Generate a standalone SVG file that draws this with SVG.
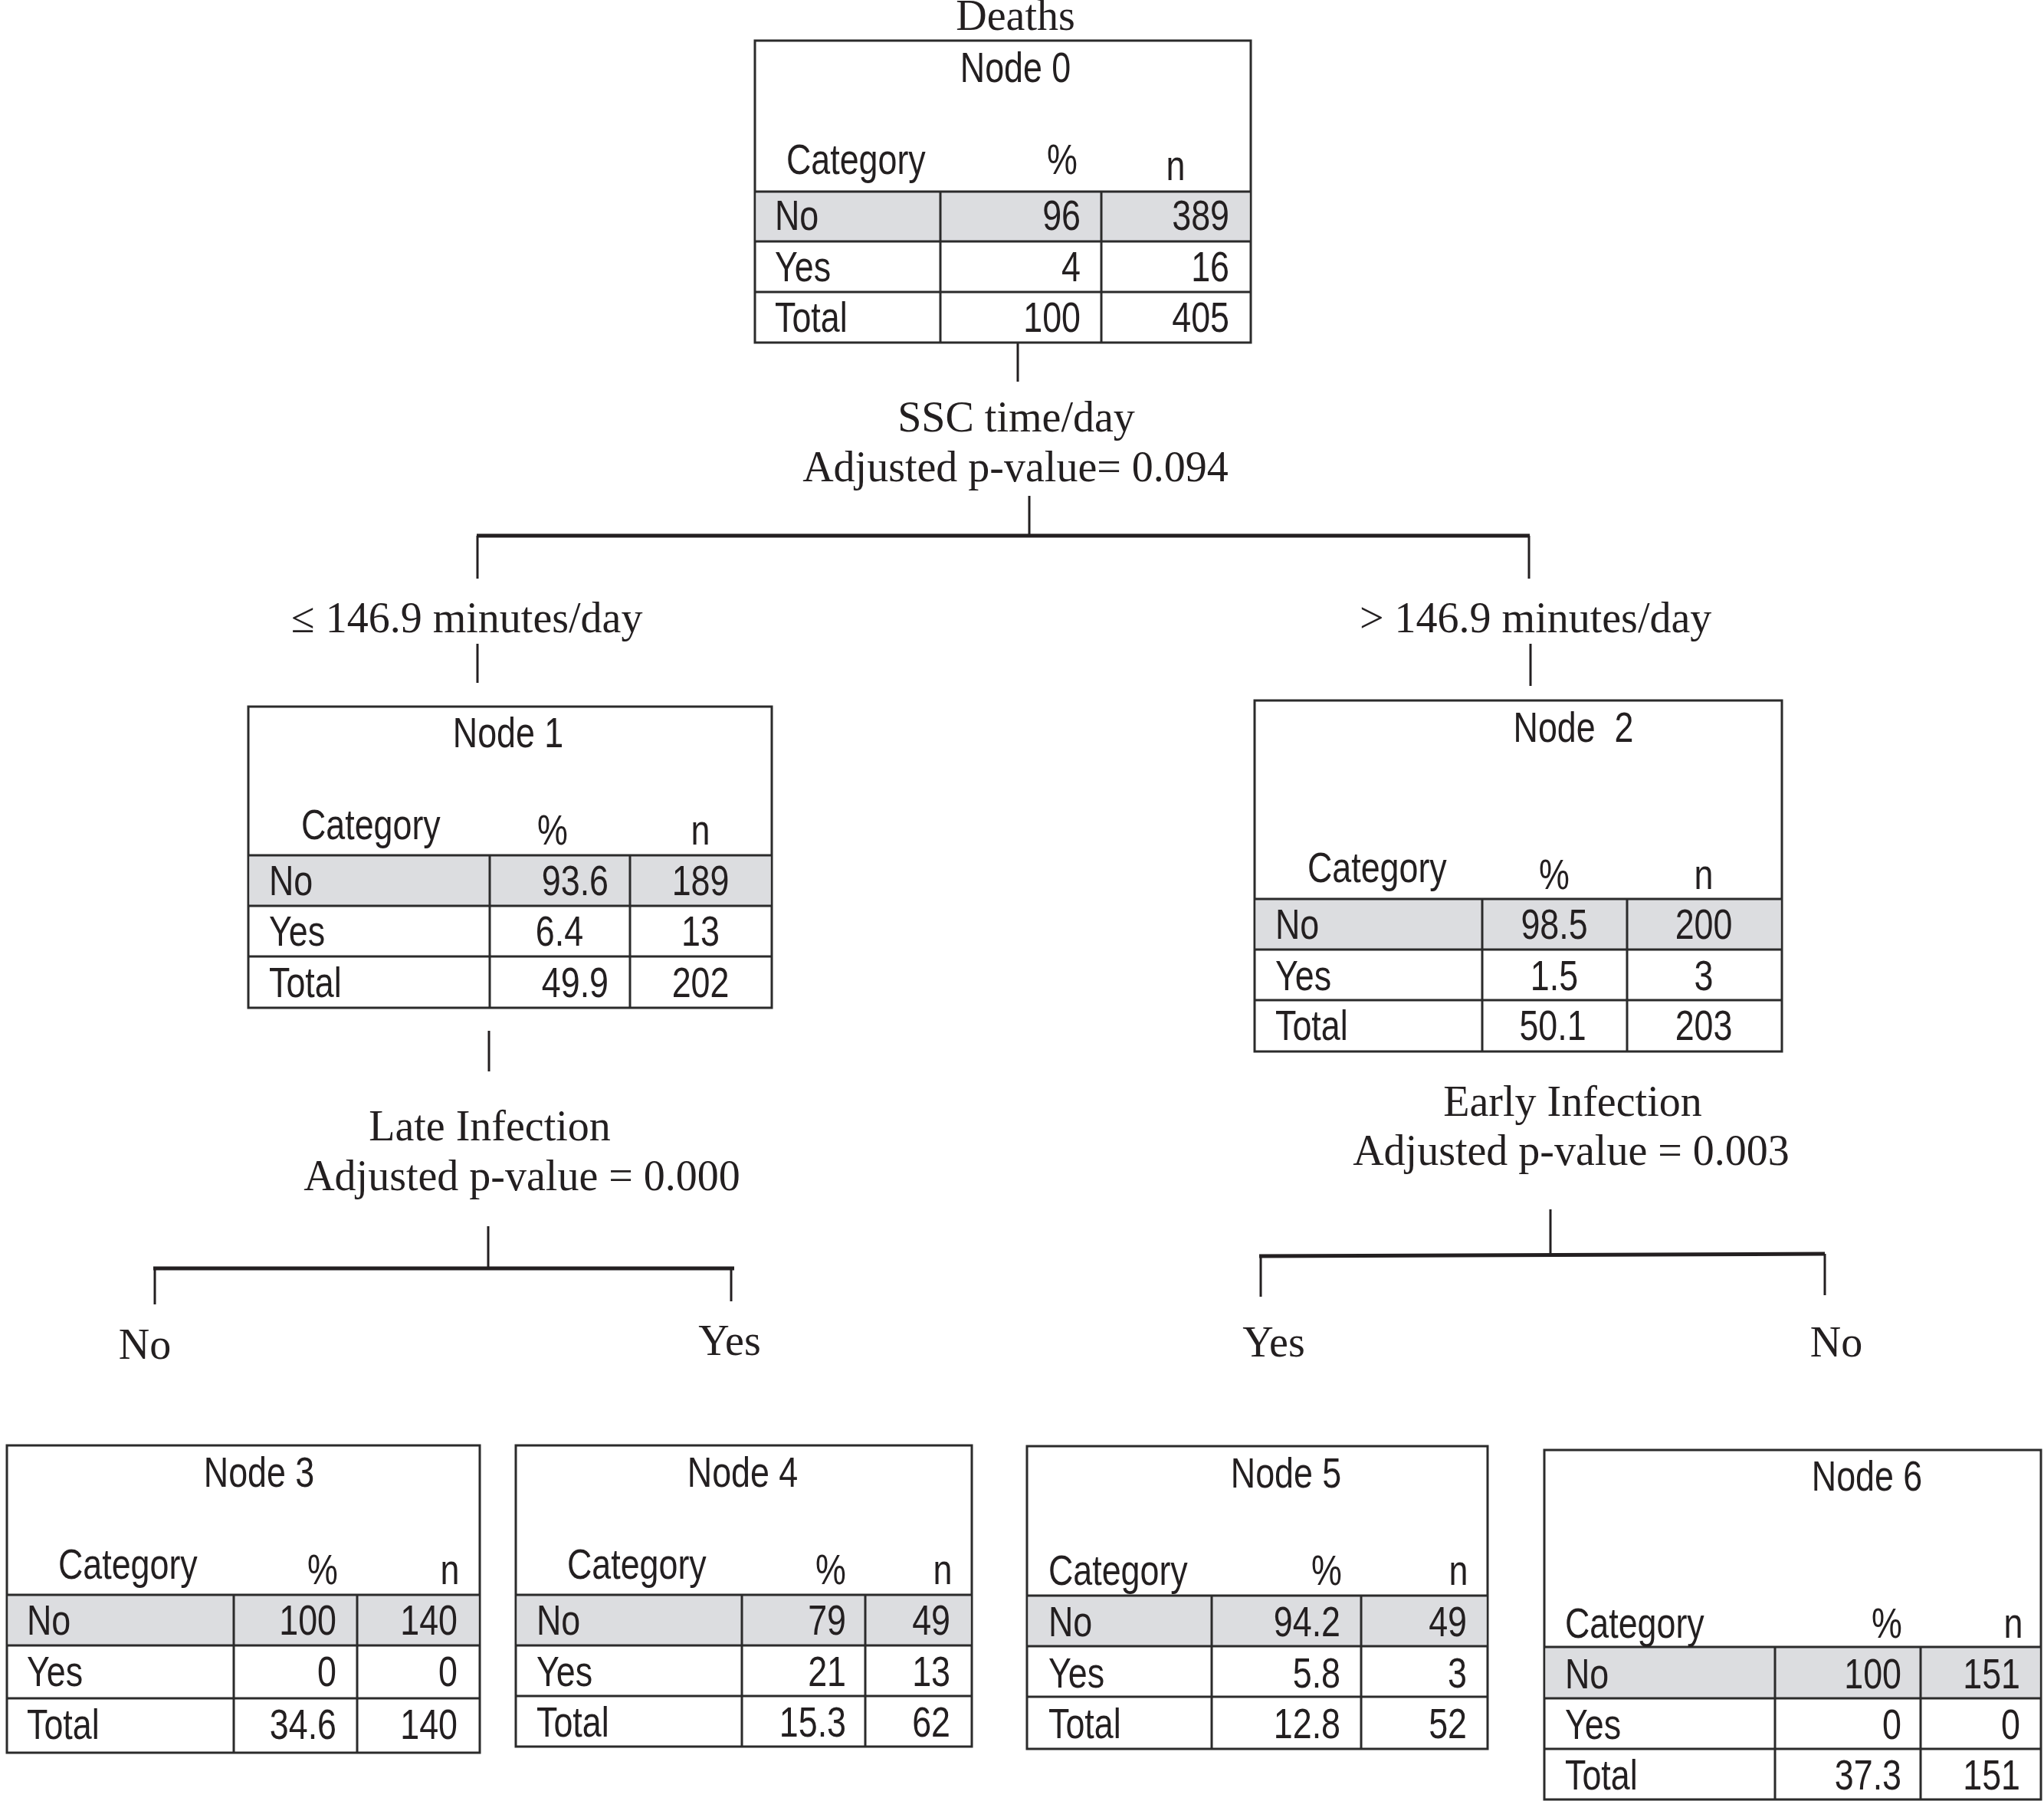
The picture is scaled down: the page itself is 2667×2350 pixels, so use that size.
<svg xmlns="http://www.w3.org/2000/svg" width="2667" height="2350" viewBox="0 0 2667 2350">
<style>
.s{font-family:"Liberation Sans",Arial,sans-serif;font-size:56px;fill:#231f20}
.t{font-family:"Liberation Serif","Times New Roman",serif;font-size:56px;fill:#231f20}
.m{text-anchor:middle}
.e{text-anchor:end}
.box{fill:#fff;stroke:#2b2b2b;stroke-width:3}
.hl{fill:#dcdde0}
.g{stroke:#2b2b2b;stroke-width:3;fill:none}
.c{stroke:#231f20;stroke-width:3;fill:none}
.cb{stroke:#231f20;stroke-width:5;fill:none}
</style>
<rect width="2667" height="2350" fill="#fff"/>
<g id="labels">
<text class="t m" x="1325" y="39">Deaths</text>
<text class="t m" x="1326" y="563">SSC time/day</text>
<text class="t m" x="1325" y="628">Adjusted p-value= 0.094</text>
<text class="t" x="380" y="825">≤ 146.9 minutes/day</text>
<text class="t" x="1774" y="825">&gt; 146.9 minutes/day</text>
<text class="t m" x="639" y="1488">Late Infection</text>
<text class="t m" x="681" y="1553">Adjusted p-value = 0.000</text>
<text class="t m" x="2052" y="1456">Early Infection</text>
<text class="t m" x="2050" y="1520">Adjusted p-value = 0.003</text>
<text class="t m" x="189" y="1773">No</text>
<text class="t m" x="952" y="1768">Yes</text>
<text class="t m" x="1662" y="1770">Yes</text>
<text class="t m" x="2396" y="1770">No</text>
</g>
<g id="connectors">
<line class="c" x1="1328" y1="447" x2="1328" y2="498"/>
<line class="c" x1="1343" y1="647" x2="1343" y2="699"/>
<line class="cb" x1="622" y1="699" x2="1996" y2="699"/>
<line class="c" x1="623" y1="699" x2="623" y2="755"/>
<line class="c" x1="1995" y1="699" x2="1995" y2="755"/>
<line class="c" x1="623" y1="840" x2="623" y2="891"/>
<line class="c" x1="1997" y1="840" x2="1997" y2="895"/>
<line class="c" x1="638" y1="1345" x2="638" y2="1398"/>
<line class="c" x1="637" y1="1600" x2="637" y2="1655"/>
<line class="cb" x1="200" y1="1655" x2="958" y2="1655"/>
<line class="c" x1="202" y1="1655" x2="202" y2="1702"/>
<line class="c" x1="954" y1="1655" x2="954" y2="1698"/>
<line class="c" x1="2023" y1="1578" x2="2023" y2="1637"/>
<line class="cb" x1="1643" y1="1639" x2="2381" y2="1636"/>
<line class="c" x1="1645" y1="1639" x2="1645" y2="1692"/>
<line class="c" x1="2381" y1="1636" x2="2381" y2="1690"/>
</g>
<g id="node0">
<rect class="box" x="985" y="53" width="647" height="394"/>
<rect class="hl" x="986.5" y="250" width="644" height="65"/>
<path class="g" d="M985 250H1632M985 315H1632M985 381H1632M1227 250V447M1437 250V447"/>
<text class="s m" transform="translate(1325 107) scale(.8 1)">Node 0</text>
<text class="s" transform="translate(1026 227) scale(.8 1)">Category</text>
<text class="s m" transform="translate(1386 227) scale(.8 1)">%</text>
<text class="s m" transform="translate(1534 235) scale(.8 1)">n</text>
<text class="s" transform="translate(1011 300) scale(.8 1)">No</text>
<text class="s e" transform="translate(1410 300) scale(.8 1)">96</text>
<text class="s e" transform="translate(1604 300) scale(.8 1)">389</text>
<text class="s" transform="translate(1011 367) scale(.8 1)">Yes</text>
<text class="s e" transform="translate(1410 367) scale(.8 1)">4</text>
<text class="s e" transform="translate(1604 367) scale(.8 1)">16</text>
<text class="s" transform="translate(1011 433) scale(.8 1)">Total</text>
<text class="s e" transform="translate(1410 433) scale(.8 1)">100</text>
<text class="s e" transform="translate(1604 433) scale(.8 1)">405</text>
</g>
<g id="node1">
<rect class="box" x="324" y="922" width="683" height="393"/>
<rect class="hl" x="325.5" y="1116" width="680" height="66"/>
<path class="g" d="M324 1116H1007M324 1182H1007M324 1248H1007M639 1116V1315M822 1116V1315"/>
<text class="s m" transform="translate(663 975) scale(.8 1)">Node 1</text>
<text class="s" transform="translate(393 1095) scale(.8 1)">Category</text>
<text class="s m" transform="translate(721 1102) scale(.8 1)">%</text>
<text class="s m" transform="translate(914 1102) scale(.8 1)">n</text>
<text class="s" transform="translate(351 1168) scale(.8 1)">No</text>
<text class="s e" transform="translate(794 1168) scale(.8 1)">93.6</text>
<text class="s m" transform="translate(914 1168) scale(.8 1)">189</text>
<text class="s" transform="translate(351 1234) scale(.8 1)">Yes</text>
<text class="s m" transform="translate(730 1234) scale(.8 1)">6.4</text>
<text class="s m" transform="translate(914 1234) scale(.8 1)">13</text>
<text class="s" transform="translate(351 1301) scale(.8 1)">Total</text>
<text class="s e" transform="translate(794 1301) scale(.8 1)">49.9</text>
<text class="s m" transform="translate(914 1301) scale(.8 1)">202</text>
</g>
<g id="node2">
<rect class="box" x="1637" y="914" width="688" height="458"/>
<rect class="hl" x="1638.5" y="1173" width="685" height="66"/>
<path class="g" d="M1637 1173H2325M1637 1239H2325M1637 1305H2325M1934 1173V1372M2123 1173V1372"/>
<text class="s m" transform="translate(2053 968) scale(.8 1)">Node&#160; 2</text>
<text class="s" transform="translate(1706 1151) scale(.8 1)">Category</text>
<text class="s m" transform="translate(2028 1160) scale(.8 1)">%</text>
<text class="s m" transform="translate(2223 1160) scale(.8 1)">n</text>
<text class="s" transform="translate(1664 1225) scale(.8 1)">No</text>
<text class="s m" transform="translate(2028 1225) scale(.8 1)">98.5</text>
<text class="s m" transform="translate(2223 1225) scale(.8 1)">200</text>
<text class="s" transform="translate(1664 1292) scale(.8 1)">Yes</text>
<text class="s m" transform="translate(2028 1292) scale(.8 1)">1.5</text>
<text class="s m" transform="translate(2223 1292) scale(.8 1)">3</text>
<text class="s" transform="translate(1664 1357) scale(.8 1)">Total</text>
<text class="s m" transform="translate(2026 1357) scale(.8 1)">50.1</text>
<text class="s m" transform="translate(2223 1357) scale(.8 1)">203</text>
</g>
<g id="node3">
<rect class="box" x="9" y="1886" width="617" height="401"/>
<rect class="hl" x="10.5" y="2081" width="614" height="66"/>
<path class="g" d="M9 2081H626M9 2147H626M9 2216H626M305 2081V2287M466 2081V2287"/>
<text class="s m" transform="translate(338 1940) scale(.8 1)">Node 3</text>
<text class="s" transform="translate(76 2060) scale(.8 1)">Category</text>
<text class="s m" transform="translate(421 2067) scale(.8 1)">%</text>
<text class="s m" transform="translate(587 2067) scale(.8 1)">n</text>
<text class="s" transform="translate(35 2133) scale(.8 1)">No</text>
<text class="s e" transform="translate(439 2133) scale(.8 1)">100</text>
<text class="s e" transform="translate(597 2133) scale(.8 1)">140</text>
<text class="s" transform="translate(35 2200) scale(.8 1)">Yes</text>
<text class="s e" transform="translate(439 2200) scale(.8 1)">0</text>
<text class="s e" transform="translate(597 2200) scale(.8 1)">0</text>
<text class="s" transform="translate(35 2269) scale(.8 1)">Total</text>
<text class="s e" transform="translate(439 2269) scale(.8 1)">34.6</text>
<text class="s e" transform="translate(597 2269) scale(.8 1)">140</text>
</g>
<g id="node4">
<rect class="box" x="673" y="1886" width="595" height="393"/>
<rect class="hl" x="674.5" y="2081" width="592" height="66"/>
<path class="g" d="M673 2081H1268M673 2147H1268M673 2213H1268M968 2081V2279M1129 2081V2279"/>
<text class="s m" transform="translate(969 1940) scale(.8 1)">Node 4</text>
<text class="s" transform="translate(740 2060) scale(.8 1)">Category</text>
<text class="s m" transform="translate(1084 2067) scale(.8 1)">%</text>
<text class="s m" transform="translate(1230 2067) scale(.8 1)">n</text>
<text class="s" transform="translate(700 2133) scale(.8 1)">No</text>
<text class="s e" transform="translate(1104 2133) scale(.8 1)">79</text>
<text class="s e" transform="translate(1240 2133) scale(.8 1)">49</text>
<text class="s" transform="translate(700 2200) scale(.8 1)">Yes</text>
<text class="s e" transform="translate(1104 2200) scale(.8 1)">21</text>
<text class="s e" transform="translate(1240 2200) scale(.8 1)">13</text>
<text class="s" transform="translate(700 2266) scale(.8 1)">Total</text>
<text class="s e" transform="translate(1104 2266) scale(.8 1)">15.3</text>
<text class="s e" transform="translate(1240 2266) scale(.8 1)">62</text>
</g>
<g id="node5">
<rect class="box" x="1340" y="1887" width="601" height="395"/>
<rect class="hl" x="1341.5" y="2082" width="598" height="66"/>
<path class="g" d="M1340 2082H1941M1340 2148H1941M1340 2214H1941M1581 2082V2282M1776 2082V2282"/>
<text class="s m" transform="translate(1678 1941) scale(.8 1)">Node 5</text>
<text class="s" transform="translate(1368 2068) scale(.8 1)">Category</text>
<text class="s m" transform="translate(1731 2068) scale(.8 1)">%</text>
<text class="s m" transform="translate(1903 2068) scale(.8 1)">n</text>
<text class="s" transform="translate(1368 2135) scale(.8 1)">No</text>
<text class="s e" transform="translate(1749 2135) scale(.8 1)">94.2</text>
<text class="s e" transform="translate(1914 2135) scale(.8 1)">49</text>
<text class="s" transform="translate(1368 2202) scale(.8 1)">Yes</text>
<text class="s e" transform="translate(1749 2202) scale(.8 1)">5.8</text>
<text class="s e" transform="translate(1914 2202) scale(.8 1)">3</text>
<text class="s" transform="translate(1368 2268) scale(.8 1)">Total</text>
<text class="s e" transform="translate(1749 2268) scale(.8 1)">12.8</text>
<text class="s e" transform="translate(1914 2268) scale(.8 1)">52</text>
</g>
<g id="node6">
<rect class="box" x="2015" y="1892" width="648" height="456"/>
<rect class="hl" x="2016.5" y="2149" width="645" height="67"/>
<path class="g" d="M2015 2149H2663M2015 2216H2663M2015 2282H2663M2316 2149V2348M2506 2149V2348"/>
<text class="s m" transform="translate(2436 1945) scale(.8 1)">Node 6</text>
<text class="s" transform="translate(2042 2137) scale(.8 1)">Category</text>
<text class="s m" transform="translate(2462 2137) scale(.8 1)">%</text>
<text class="s m" transform="translate(2627 2137) scale(.8 1)">n</text>
<text class="s" transform="translate(2042 2203) scale(.8 1)">No</text>
<text class="s e" transform="translate(2481 2203) scale(.8 1)">100</text>
<text class="s e" transform="translate(2636 2203) scale(.8 1)">151</text>
<text class="s" transform="translate(2042 2269) scale(.8 1)">Yes</text>
<text class="s e" transform="translate(2481 2269) scale(.8 1)">0</text>
<text class="s e" transform="translate(2636 2269) scale(.8 1)">0</text>
<text class="s" transform="translate(2042 2335) scale(.8 1)">Total</text>
<text class="s e" transform="translate(2481 2335) scale(.8 1)">37.3</text>
<text class="s e" transform="translate(2636 2335) scale(.8 1)">151</text>
</g>
</svg>
